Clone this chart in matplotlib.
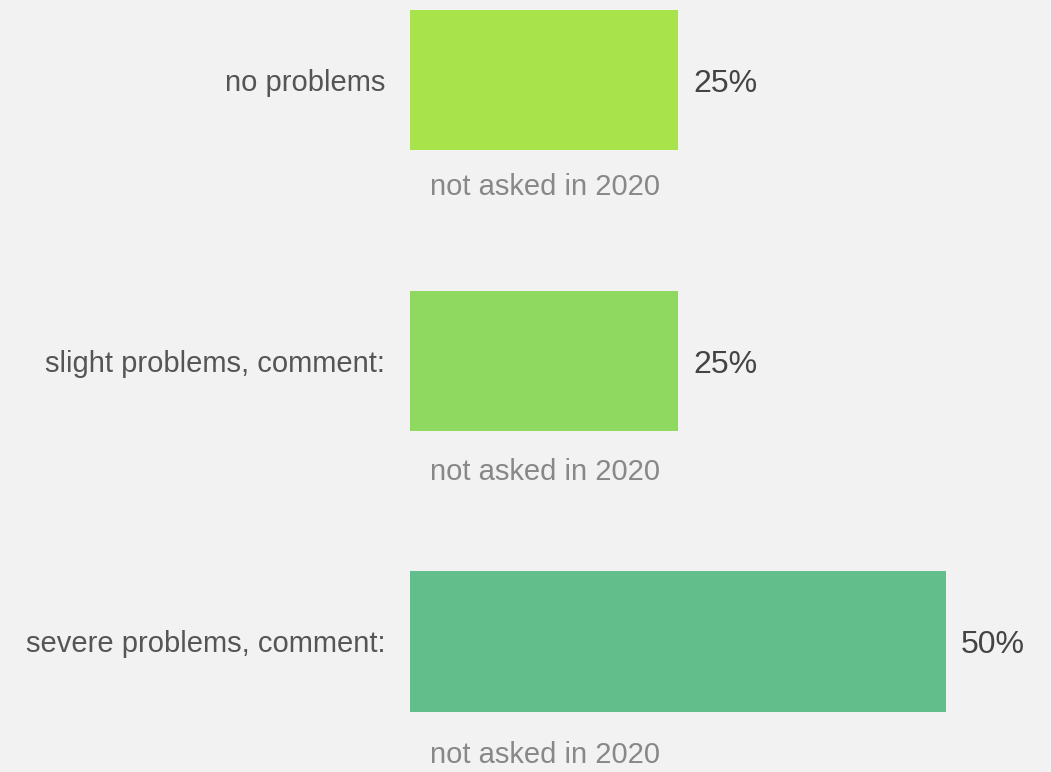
import matplotlib
matplotlib.use('Agg')
import matplotlib.pyplot as plt

# survey answers, share of responses in 2023
categories = ['no problems', 'slight problems, comment:', 'severe problems, comment:']
shares = [25, 25, 50]
value_labels = ['25%', '25%', '50%']
notes = ['not asked in 2020', 'not asked in 2020', 'not asked in 2020']
bar_colors = ['#a8e34b', '#8fd961', '#62bf8b']

plt.rcParams['font.family'] = ['Liberation Sans', 'DejaVu Sans']

fig = plt.figure(figsize=(10.51, 7.72), dpi=100, facecolor='#f2f2f2')
ax = fig.add_axes([0, 0, 1, 1])
ax.set_facecolor('#f2f2f2')

# one row per category, bar occupying half of the row
px_per_pct = 268 / 25
row_px = 280.75
ax.set_xlim(-410 / px_per_pct, (1051 - 410) / px_per_pct)
ax.set_ylim((772 - 80) / row_px, -80 / row_px)

rows = list(range(len(categories)))
ax.barh(rows, shares, height=0.5, color=bar_colors, left=0)

pct = 1 / px_per_pct
# baseline of the note under each bar, pixels below the bar centre
note_drop = [115, 119, 122]
for r, cat, val, lab, note in zip(rows, categories, shares, value_labels, notes):
    ax.text(-25 * pct, r + 11 / row_px, cat, ha='right', va='baseline',
            fontsize=21, color='#555555')
    ax.text(val + 15 * pct, r + 12 / row_px, lab, ha='left', va='baseline',
            fontsize=23, color='#444444')
    ax.text(20 * pct, r + note_drop[r] / row_px, note, ha='left', va='baseline',
            fontsize=21, color='#888888')

ax.axis('off')
fig.savefig('out.png', dpi=100, facecolor=fig.get_facecolor())
